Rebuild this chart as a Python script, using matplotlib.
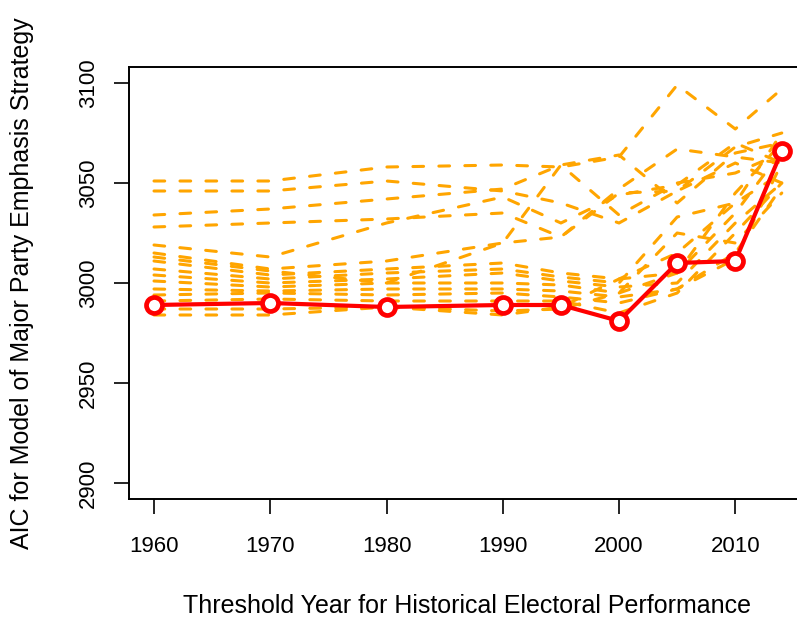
import numpy as np
import matplotlib
matplotlib.use('Agg')
import matplotlib.pyplot as plt

plt.rcParams['font.family'] = ['Liberation Sans', 'DejaVu Sans']

years = [1960, 1970, 1980, 1990, 1995, 2000, 2005, 2010, 2014]

# alternative model specifications (orange, dashed)
alt_aic = [
    [3051, 3051, 3058, 3059, 3058, 3063, 3099, 3077, 3097],
    [3046, 3046, 3051, 3046, 3040, 3030, 3046, 3068, 3075],
    [3034, 3037, 3042, 3047, 3059, 3064, 3040, 3065, 3070],
    [3028, 3030, 3032, 3035, 3023, 3047, 3067, 3063, 3060],
    [3019, 3013, 3030, 3043, 3030, 3044, 3049, 3070, 3060],
    [3015, 3007, 3011, 3020, 3023, 3045, 3046, 3060, 3050],
    [3013, 3006, 3000, 3020, 3059, 3034, 3050, 3055, 3065],
    [3011, 3004, 3007, 3010, 3005, 3002, 3005, 3045, 3070],
    [3007, 3002, 3005, 3007, 3003, 3000, 3033, 3040, 3055],
    [3004, 3000, 3002, 3005, 3001, 2998, 3000, 3030, 3050],
    [3001, 2998, 3000, 3000, 2999, 2995, 3025, 3020, 3045],
    [2997, 2996, 2997, 2997, 2996, 2993, 2997, 3015, 3048],
    [2994, 2995, 2994, 2995, 2993, 2990, 2997, 3012, 3060],
    [2991, 2992, 2991, 2991, 2991, 2985, 2995, 3025, 3050],
    [2987, 2987, 2988, 2986, 2987, 2995, 3005, 3035, 3066],
    [2984, 2984, 2988, 2984, 2988, 3002, 3015, 3040, 3075],
]

# chosen model (red)
main_aic = [2989, 2990, 2988, 2989, 2989, 2981, 3010, 3011, 3066]

xticks = [1960, 1970, 1980, 1990, 2000, 2010]
yticks = [2900, 2950, 3000, 3050, 3100]

W, H = 797, 617
fig = plt.figure(figsize=(W / 100, H / 100), dpi=100)
# R-style axes, right edge runs past the figure
x0, x1 = 128.9, 806.9
y0, y1 = 67, 499
ax = fig.add_axes([x0 / W, 1 - y1 / H, (x1 - x0) / W, (y1 - y0) / H])

for row in alt_aic:
    ax.plot(years, row, color='#FFA500', lw=2.2, dashes=(3.5, 5.0),
            dash_capstyle='round', solid_capstyle='round')

ax.plot(years, main_aic, color='red', lw=3, marker='o', ms=11.5,
        mfc='white', mec='red', mew=3.4, zorder=5)

ax.set_xlim(1957.84, 2016.16)
ax.set_ylim(2892, 3108)
ax.set_xticks(xticks)
ax.set_yticks(yticks)
ax.tick_params(axis='both', length=10.8, width=1.2, labelsize=16, direction='out')
ax.tick_params(axis='x', pad=16)
ax.tick_params(axis='y', pad=11)
for lab in ax.get_yticklabels():
    lab.set_rotation(90)
    lab.set_va('center')
for s in ax.spines.values():
    s.set_linewidth(1.4)

fig.text(22 / W, 1 - 283 / H, 'AIC for Model of Major Party Emphasis Strategy',
         rotation=90, ha='center', va='center', fontsize=18)
fig.text(467 / W, 1 - 606 / H, 'Threshold Year for Historical Electoral Performance',
         ha='center', va='center', fontsize=18)

fig.savefig('out.png', dpi=100)
